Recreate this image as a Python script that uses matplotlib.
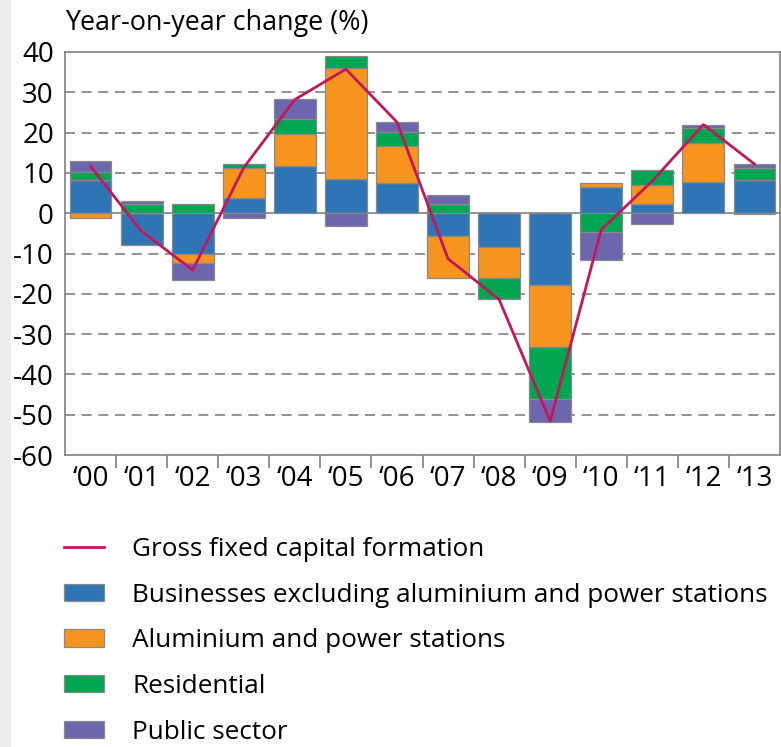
import matplotlib

matplotlib.use("Agg")

import matplotlib.pyplot as plt
import numpy as np
from matplotlib.lines import Line2D
from matplotlib.patches import Patch, Rectangle

years = ["\u201800", "\u201801", "\u201802", "\u201803", "\u201804", "\u201805", "\u201806",
         "\u201807", "\u201808", "\u201809", "\u201810", "\u201811", "\u201812", "\u201813"]

# contributions to year-on-year change (percentage points)
businesses = [8.2, -7.8, -10.1, 3.7, 11.8, 8.4, 7.6, -5.7, -8.3, -17.9, 6.6, 2.4, 7.8, 8.25]
aluminium = [-1.3, 0.1, -2.2, 7.4, 7.9, 27.7, 9.1, -10.3, -7.7, -15.4, 0.8, 4.5, 9.6, -0.2]
residential = [2.0, 2.1, 2.2, 1.1, 3.7, 2.9, 3.4, 2.2, -5.4, -12.75, -4.6, 3.8, 3.8, 2.95]
public = [2.8, 0.8, -4.3, -1.3, 5.0, -3.1, 2.5, 2.2, 0.0, -5.75, -7.1, -2.7, 0.8, 1.0]
gross_fixed = [11.6, -4.5, -14.1, 11.3, 28.2, 35.75, 22.6, -11.3, -21.4, -51.6, -4.1, 8.0, 22.0, 12.2]

series = [
    ("Businesses excluding aluminium and power stations", businesses, "#2e75b6"),
    ("Aluminium and power stations", aluminium, "#f7941d"),
    ("Residential", residential, "#00a651"),
    ("Public sector", public, "#6c66ae"),
]
line_color = "#c2185b"
edge = "#8a8a8a"
grid_color = "#808080"

plt.rcParams["font.family"] = ["Open Sans", "DejaVu Sans"]
plt.rcParams["axes.unicode_minus"] = False

fig = plt.figure(figsize=(7.81, 7.47), dpi=100)
fig.patches.append(Rectangle((0, 0), 11 / 781, 1, transform=fig.transFigure,
                             facecolor="#ececec", edgecolor="none", zorder=0))

ax = fig.add_axes([65 / 781, 1 - 455 / 747, 715 / 781, 403 / 747])

x = np.arange(len(years))
pos_base = np.zeros(len(years))
neg_base = np.zeros(len(years))
for name, vals, color in series:
    vals = np.array(vals)
    bottom = np.where(vals >= 0, pos_base, neg_base)
    ax.bar(x, vals, bottom=bottom, width=0.82, color=color,
           edgecolor=edge, linewidth=0.9, zorder=3)
    pos_base += np.clip(vals, 0, None)
    neg_base += np.clip(vals, None, 0)

ax.plot(x, gross_fixed, color=line_color, linewidth=2.0, zorder=4)

ax.set_xlim(-0.5, len(years) - 0.5)
ax.set_ylim(-60, 40)
ax.set_yticks(np.arange(-60, 41, 10))
for v in range(-50, 31, 10):
    if v == 0:
        ax.axhline(0, color=grid_color, linewidth=1.2, zorder=2)
    else:
        ax.axhline(v, color=grid_color, linewidth=1.2, linestyle=(0, (6, 4)), zorder=1)

ax.set_xticks(x)
ax.set_xticklabels(years)
ax.set_xticks(np.arange(0.5, len(years) - 1, 1), minor=True)
ax.tick_params(axis="x", which="major", length=0, pad=7, labelsize=20)
ax.tick_params(axis="x", which="minor", length=9, width=1.2, color=grid_color)
ax.tick_params(axis="y", length=0, pad=8, labelsize=20)

for spine in ax.spines.values():
    spine.set_color(grid_color)
    spine.set_linewidth(1.2)

fig.text(65 / 781, 1 - 23 / 747, "Year-on-year change (%)", fontsize=19.4,
         ha="left", va="center")

handles = [Line2D([], [], color=line_color, linewidth=2.0)]
handles += [Patch(facecolor=c, edgecolor=edge, linewidth=0.9) for _, _, c in series]
labels = ["Gross fixed capital formation"] + [n for n, _, _ in series]
fig.legend(handles, labels, loc="upper left", bbox_to_anchor=(64 / 781, 1 - 537 / 747),
           frameon=False, fontsize=18.8, handlelength=1.54, handleheight=0.65,
           handletextpad=1.08, labelspacing=0.79, borderpad=0, borderaxespad=0)

fig.savefig("out.png", dpi=100)
